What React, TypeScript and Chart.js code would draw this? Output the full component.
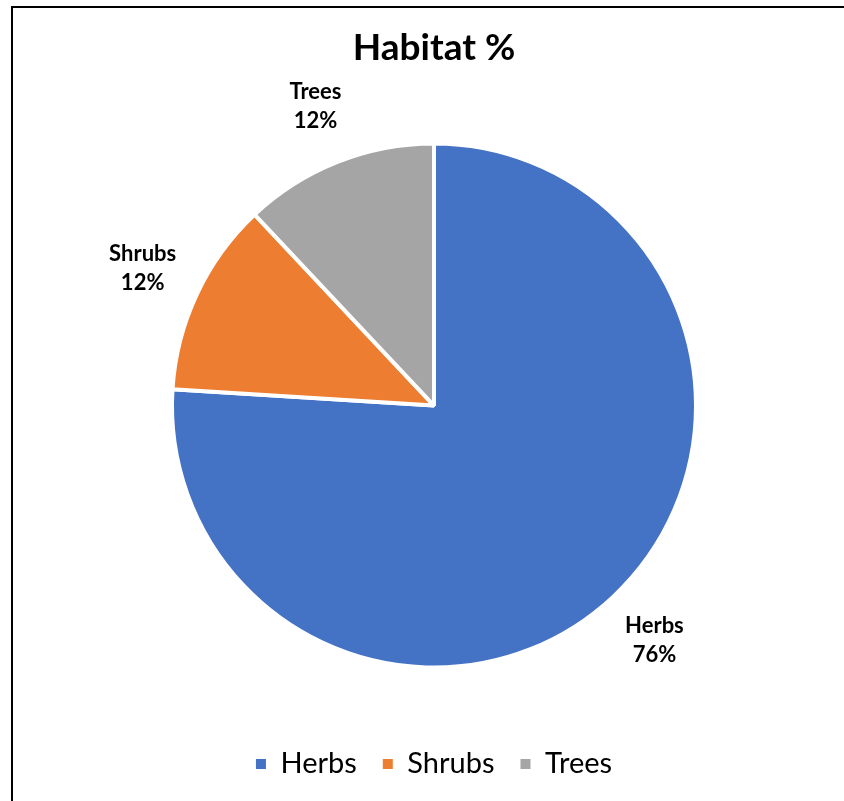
import React, { useEffect, useRef } from "react";
import { Chart, registerables } from "chart.js";

Chart.register(...registerables);

const categories = ["Herbs", "Shrubs", "Trees"];
const values = [76, 12, 12];
const colors = ["#4472C4", "#ED7D31", "#A5A5A5"];
const titleText = "Habitat %";

const FONT = 'Lato, "Open Sans", sans-serif';

const framePlugin = {
  id: "frame",
  beforeDraw(chart: any) {
    const ctx = chart.ctx;
    ctx.save();
    ctx.fillStyle = "#fff";
    ctx.fillRect(0, 0, chart.width, chart.height);
    ctx.strokeStyle = "#000";
    ctx.lineWidth = 2;
    ctx.beginPath();
    ctx.moveTo(12, chart.height);
    ctx.lineTo(12, 7);
    ctx.lineTo(chart.width, 7);
    ctx.stroke();
    ctx.restore();
  },
};

const labelPlugin = {
  id: "pieLabels",
  afterDatasetsDraw(chart: any) {
    const ctx = chart.ctx;
    const meta = chart.getDatasetMeta(0);
    const data = chart.data.datasets[0].data as number[];
    const total = data.reduce((a, b) => a + b, 0);
    ctx.save();
    ctx.font = `bold 22px ${FONT}`;
    ctx.fillStyle = "#000";
    ctx.textAlign = "center";
    ctx.textBaseline = "middle";
    meta.data.forEach((arc: any, i: number) => {
      const { x, y, startAngle, endAngle, outerRadius } = arc.getProps(
        ["x", "y", "startAngle", "endAngle", "outerRadius"],
        true
      );
      const mid = (startAngle + endAngle) / 2;
      const d = outerRadius + 60;
      const cx = x + Math.cos(mid) * d;
      const cy = y + Math.sin(mid) * d;
      const pct = Math.round((data[i] / total) * 100) + "%";
      ctx.fillText(chart.data.labels[i], cx, cy - 14.5);
      ctx.fillText(pct, cx, cy + 14.5);
    });
    ctx.restore();
  },
};

export default function App() {
  const ref = useRef<HTMLCanvasElement | null>(null);
  useEffect(() => {
    if (!ref.current) return;
    const chart = new Chart(ref.current, {
      type: "pie",
      data: {
        labels: categories,
        datasets: [
          {
            data: values,
            backgroundColor: colors,
            borderColor: "#ffffff",
            borderWidth: 4,
            radius: 262,
          } as any,
        ],
      },
      options: {
        responsive: false,
        animation: false,
        events: [],
        layout: { padding: { top: 26, bottom: 12.5, left: 24, right: 0 } },
        plugins: {
          tooltip: { enabled: false },
          title: {
            display: true,
            text: titleText,
            color: "#000",
            font: { family: FONT, size: 37, weight: "bold" },
            padding: { top: 0, bottom: 17.3 },
          },
          legend: {
            display: true,
            position: "bottom",
            labels: {
              color: "#000",
              font: { family: FONT, size: 29 },
              boxWidth: 10,
              boxHeight: 10,
              padding: 26,
              generateLabels: (c: any) =>
                (Chart as any).overrides.pie.plugins.legend.labels
                  .generateLabels(c)
                  .map((l: any) => ({ ...l, lineWidth: 0, strokeStyle: "transparent" })),
            },
          },
        },
      },
      plugins: [framePlugin, labelPlugin],
    });
    return () => chart.destroy();
  }, []);

  return (
    <canvas
      ref={ref}
      width={844}
      height={801}
      style={{ position: "fixed", left: 0, top: 0, width: 844, height: 801 }}
    />
  );
}
